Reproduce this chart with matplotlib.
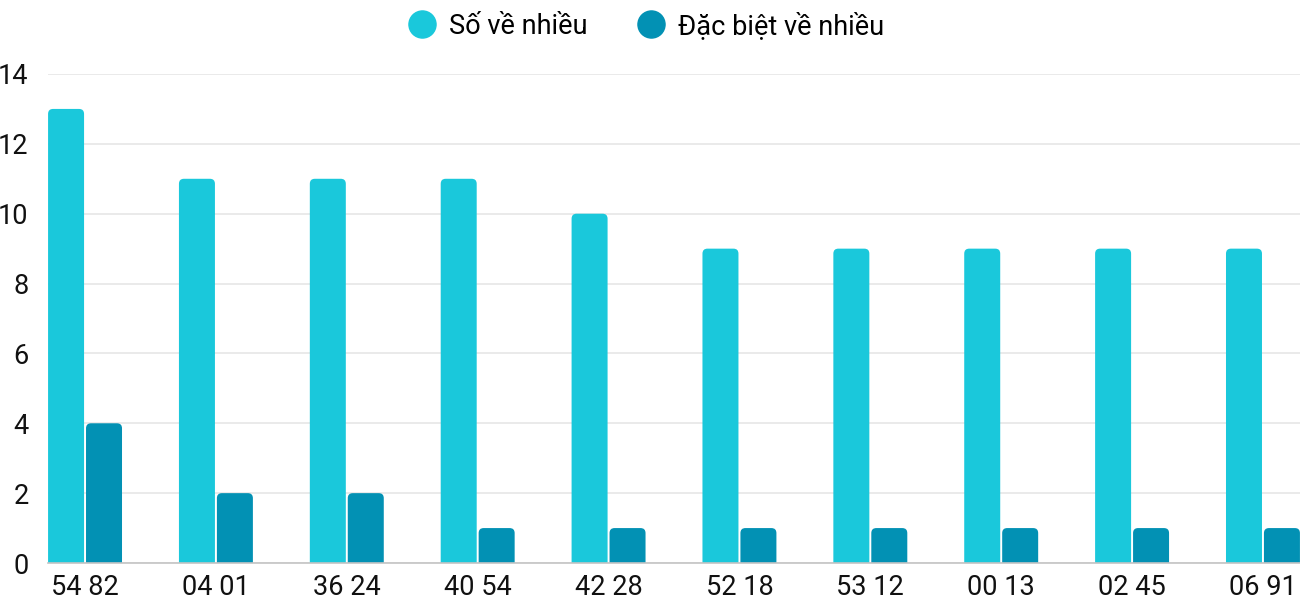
import matplotlib
matplotlib.use("Agg")
import matplotlib.pyplot as plt
from matplotlib.patches import FancyBboxPatch
from matplotlib.lines import Line2D
import numpy as np

categories = ["54 82", "04 01", "36 24", "40 54", "42 28", "52 18", "53 12", "00 13", "02 45", "06 91"]
so_ve_nhieu = [13, 11, 11, 11, 10, 9, 9, 9, 9, 9]
dac_biet = [4, 2, 2, 1, 1, 1, 1, 1, 1, 1]
series_names = ["Số về nhiều", "Đặc biệt về nhiều"]
colors = ["#1ac8db", "#0291b4"]

plt.rcParams['font.family'] = ['Roboto', 'DejaVu Sans']

fig = plt.figure(figsize=(13, 6), dpi=100)
ax = fig.add_axes([48/1300, 37/600, 1252/1300, 489/600])

x = np.arange(len(categories))
w = 0.275
off = 0.145
bars1 = ax.bar(x - off, so_ve_nhieu, width=w, color=colors[0], zorder=3)
bars2 = ax.bar(x + off, dac_biet, width=w, color=colors[1], zorder=3)

ax.set_xlim(-0.283, len(categories) - 1 + 0.283)
ax.set_ylim(0, 14)

# rounded tops
rx = 5 / 130.8
ry = 5 / 34.93
for bars in (bars1, bars2):
    for r in bars:
        r.set_visible(False)
        p = FancyBboxPatch((r.get_x(), -1), r.get_width(), r.get_height() + 1,
                           boxstyle=f"round,pad=0,rounding_size={rx}",
                           mutation_aspect=ry / rx,
                           facecolor=r.get_facecolor(), edgecolor='none', zorder=3)
        ax.add_patch(p)

ax.set_yticks(range(0, 15, 2))
ax.yaxis.grid(True, color="#e6e6e6", linewidth=1.2, zorder=0)
ax.set_axisbelow(True)
for s in ["top", "right", "left"]:
    ax.spines[s].set_visible(False)
ax.spines["bottom"].set_color("#c4c4c4")
ax.spines["bottom"].set_linewidth(1.2)
ax.spines["bottom"].set_zorder(4)
ax.set_xticks(x)
ax.set_xticklabels(categories)
ax.tick_params(axis='both', length=0, labelsize=19.5, colors="#111111")
ax.tick_params(axis='y', pad=14)
ax.tick_params(axis='x', pad=8)

handles = [Line2D([0], [0], marker='o', linestyle='none', markersize=19.5,
                  markerfacecolor=c, markeredgecolor=c) for c in colors]
fig.legend(handles, series_names, loc='center', bbox_to_anchor=(0.497, 1 - 26/600),
           ncol=2, frameon=False, fontsize=19.5, handletextpad=0.5, columnspacing=1.85,
           handlelength=1.0)

fig.savefig("out.png", dpi=100, facecolor="white")
